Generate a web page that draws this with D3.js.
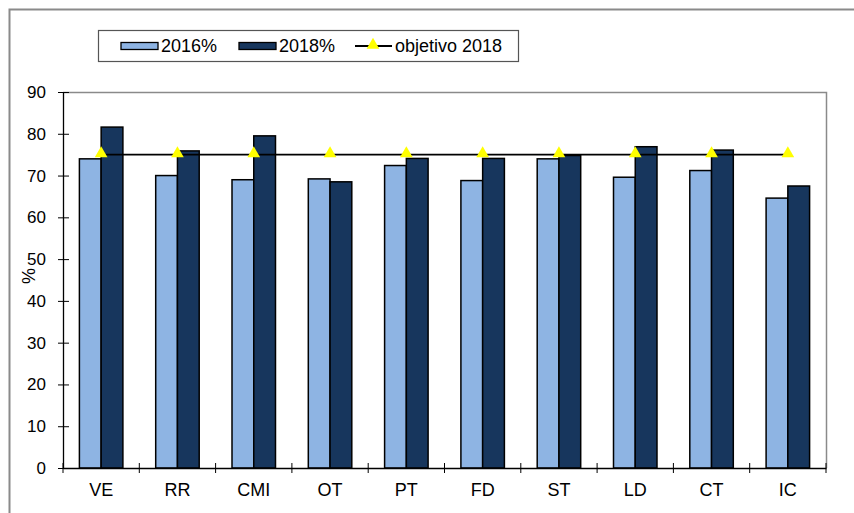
<!DOCTYPE html>
<html>
<head>
<meta charset="utf-8">
<script src="https://d3js.org/d3.v7.min.js"></script>
<style>
  body { margin: 0; background: #fff; }
  svg { font-family: "Liberation Sans", Arial, sans-serif; }
</style>
</head>
<body>
<svg id="chart" width="854" height="513"></svg>
<script>
// data
var categories = ['VE', 'RR', 'CMI', 'OT', 'PT', 'FD', 'ST', 'LD', 'CT', 'IC'];
var values2016 = [74.0, 70.0, 69.0, 69.2, 72.4, 68.8, 74.0, 69.6, 71.2, 64.6];
var values2018 = [81.6, 75.9, 79.5, 68.5, 74.1, 74.1, 74.8, 76.9, 76.1, 67.5];
var objetivo   = [75, 75, 75, 75, 75, 75, 75, 75, 75, 75];
var yTicks = [0, 10, 20, 30, 40, 50, 60, 70, 80, 90];
var seriesNames = ['2016%', '2018%', 'objetivo 2018'];

var LIGHT = '#8eb4e3', DARK = '#17365d';

var svg = d3.select('#chart');
var W = 854, H = 513;
var m = { left: 63, right: 854 - 826, top: 92, bottom: 513 - 468 };

// outer frame (only left and top visible in the reference)
svg.append('path')
  .attr('d', 'M9.5,' + H + 'V9.5H' + W)
  .attr('fill', 'none').attr('stroke', '#8a8a8a').attr('stroke-width', 2);

var x = d3.scaleBand().domain(categories).range([m.left, W - m.right]);
var groupW = x.bandwidth() * 0.57;
var x1 = d3.scaleBand().domain(['2016', '2018']).range([0, groupW]);
var y = d3.scaleLinear().domain([0, 90]).range([H - m.bottom, m.top]);

// plot area frame (top + right gray)
svg.append('path')
  .attr('d', 'M' + m.left + ',' + (m.top + 0.5) + 'H' + (W - m.right + 0.5) + 'V' + (H - m.bottom))
  .attr('fill', 'none').attr('stroke', '#8a8a8a').attr('stroke-width', 1.5);

// bars
var groups = svg.append('g').selectAll('g')
  .data(categories)
  .enter().append('g')
  .attr('transform', function(d) {
    return 'translate(' + (x(d) + (x.bandwidth() - groupW) / 2) + ',0)';
  });

groups.append('rect')
  .attr('x', x1('2016'))
  .attr('width', x1.bandwidth())
  .attr('y', function(d, i) { return y(values2016[i]); })
  .attr('height', function(d, i) { return y(0) - y(values2016[i]); })
  .attr('fill', LIGHT).attr('stroke', '#000').attr('stroke-width', 1.5);

groups.append('rect')
  .attr('x', x1('2018'))
  .attr('width', x1.bandwidth())
  .attr('y', function(d, i) { return y(values2018[i]); })
  .attr('height', function(d, i) { return y(0) - y(values2018[i]); })
  .attr('fill', DARK).attr('stroke', '#000').attr('stroke-width', 1.5);

// axes
var yAxis = svg.append('g')
  .attr('transform', 'translate(' + m.left + ',0)')
  .call(d3.axisLeft(y).tickValues(yTicks).tickSizeInner(5).tickSizeOuter(0).tickPadding(12));
yAxis.selectAll('.tick line').attr('x1', -5).attr('x2', 6);

var xAxis = svg.append('g')
  .attr('transform', 'translate(0,' + y(0) + ')')
  .call(d3.axisBottom(x).tickSize(0).tickPadding(15));

// category boundary ticks
svg.append('g').selectAll('line')
  .data(categories.concat(['end']))
  .enter().append('line')
  .attr('x1', function(d, i) { return m.left + i * x.step(); })
  .attr('x2', function(d, i) { return m.left + i * x.step(); })
  .attr('y1', y(0) - 5).attr('y2', y(0) + 5)
  .attr('stroke', '#000');

svg.selectAll('.domain').attr('stroke', '#000').attr('stroke-width', 1.3);
svg.selectAll('.tick line').attr('stroke', '#000');
yAxis.selectAll('text').attr('font-size', 17).attr('fill', '#000');
xAxis.selectAll('text').attr('font-size', 18).attr('fill', '#000');

// y title
svg.append('text')
  .attr('transform', 'translate(35,276) rotate(-90)')
  .attr('text-anchor', 'middle')
  .attr('font-size', 18)
  .text('%');

// objetivo line + markers
var line = d3.line()
  .x(function(d, i) { return x(categories[i]) + x.bandwidth() / 2; })
  .y(function(d) { return y(d); });

svg.append('path')
  .datum(objetivo)
  .attr('d', line)
  .attr('fill', 'none').attr('stroke', '#000').attr('stroke-width', 1.8);

var tri = d3.symbol().type(d3.symbolTriangle).size(70);
svg.append('g').selectAll('path')
  .data(objetivo)
  .enter().append('path')
  .attr('d', tri)
  .attr('transform', function(d, i) {
    return 'translate(' + (x(categories[i]) + x.bandwidth() / 2) + ',' + (y(d) - 1) + ')';
  })
  .attr('fill', '#ffff00');

// legend
var lg = svg.append('g');
lg.append('rect')
  .attr('x', 98.5).attr('y', 30.5).attr('width', 420).attr('height', 31)
  .attr('fill', '#fff').attr('stroke', '#555').attr('stroke-width', 1.2);

var ly = 46;
lg.append('rect').attr('x', 121).attr('y', ly - 3.5).attr('width', 37).attr('height', 7)
  .attr('fill', LIGHT).attr('stroke', '#000').attr('stroke-width', 1.3);
lg.append('rect').attr('x', 239).attr('y', ly - 3.5).attr('width', 37).attr('height', 7)
  .attr('fill', DARK).attr('stroke', '#000').attr('stroke-width', 1.3);
lg.append('line').attr('x1', 355).attr('x2', 392).attr('y1', ly).attr('y2', ly)
  .attr('stroke', '#000').attr('stroke-width', 1.8);
lg.append('path').attr('d', tri).attr('transform', 'translate(373,' + (ly - 1) + ')')
  .attr('fill', '#ffff00');

var lx = [161, 279, 395];
lg.selectAll('text.lab')
  .data(seriesNames)
  .enter().append('text')
  .attr('class', 'lab')
  .attr('x', function(d, i) { return lx[i]; })
  .attr('y', ly + 6)
  .attr('font-size', 18)
  .text(function(d) { return d; });
</script>
</body>
</html>
